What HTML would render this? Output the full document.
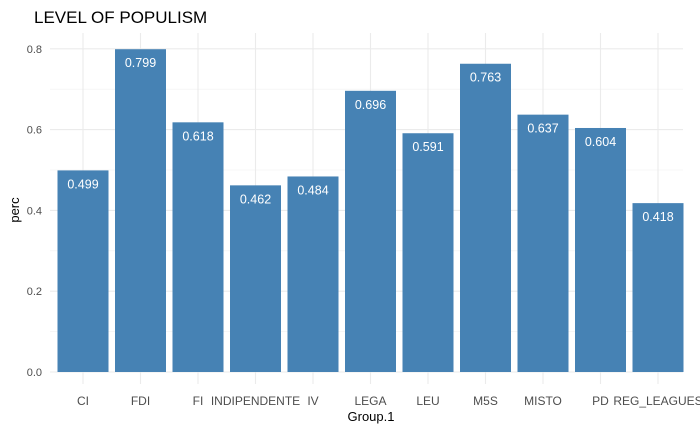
<!DOCTYPE html>
<html><head><meta charset="utf-8"><style>
html,body{margin:0;padding:0;background:#fff;}
svg{display:block;font-family:"Liberation Sans",Arial,sans-serif;}
</style></head><body>
<svg id="chart" width="700" height="432" viewBox="0 0 700 432">
<text x="34" y="23" font-size="17" fill="#000">LEVEL OF POPULISM</text>
<g id="grid"></g><g id="bars"></g><g id="labels"></g><g id="axes"></g>
<text x="371" y="421" font-size="13" text-anchor="middle" fill="#000">Group.1</text>
<text x="19" y="210" font-size="13" text-anchor="middle" fill="#000" transform="rotate(-90 19 210)">perc</text>
</svg>
<script>
const categories=["CI","FDI","FI","INDIPENDENTE","IV","LEGA","LEU","M5S","MISTO","PD","REG_LEAGUES"];
const values=[0.499,0.799,0.618,0.462,0.484,0.696,0.591,0.763,0.637,0.604,0.418];
const yTicks=[0,0.2,0.4,0.6,0.8];
const yMinor=[0.1,0.3,0.5,0.7];
const NS="http://www.w3.org/2000/svg";
const baseY=372, yScl=404, firstX=83, stepX=57.5, barW=51, plotTop=33, plotRight=683, plotLeft=50;
const yPos=v=>baseY-v*yScl, xPos=i=>firstX+i*stepX;
function mk(t,a,p){const e=document.createElementNS(NS,t);for(const k in a)e.setAttribute(k,a[k]);p.appendChild(e);return e;}
const gG=document.getElementById('grid'),gB=document.getElementById('bars'),gL=document.getElementById('labels'),gA=document.getElementById('axes');
yMinor.forEach(v=>{const e=mk('line',{x1:plotLeft,x2:plotRight,y1:yPos(v),y2:yPos(v),stroke:'#f0f0f0','stroke-width':0.6},gG);

});
yTicks.forEach(v=>{const e=mk('line',{x1:plotLeft,x2:plotRight,y1:yPos(v),y2:yPos(v),stroke:'#ebebeb','stroke-width':1.1},gG);


const t=mk('text',{x:42,y:yPos(v)+4,'font-size':11,'text-anchor':'end',fill:'#4d4d4d'},gA);t.textContent=v.toFixed(1);

});
categories.forEach((c,i)=>{const e=mk('line',{x1:xPos(i),x2:xPos(i),y1:plotTop,y2:384,stroke:'#ebebeb','stroke-width':1.1},gG);


const r=mk('rect',{x:xPos(i)-barW/2,y:yPos(values[i]),width:barW,height:baseY-yPos(values[i]),fill:'#4682b4'},gB);


const t=mk('text',{x:xPos(i),y:yPos(values[i])+18,'font-size':12.5,'text-anchor':'middle',fill:'#fff'},gL);t.textContent=values[i].toFixed(3);


const tk=mk('text',{x:xPos(i),y:405,'font-size':12,'text-anchor':'middle',fill:'#4d4d4d'},gA);tk.textContent=c;

});
</script>
</body></html>
